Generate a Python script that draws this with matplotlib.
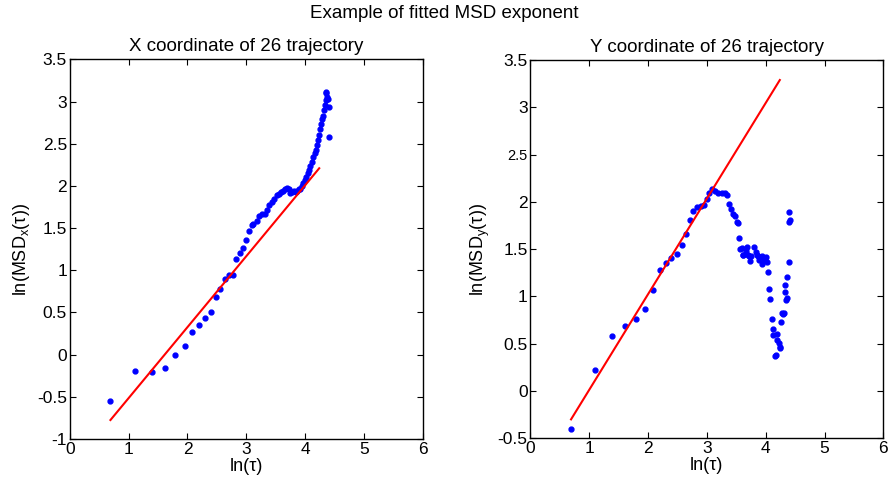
import matplotlib
matplotlib.use('Agg')
import matplotlib.pyplot as plt

plt.rcParams['font.family'] = ['Liberation Sans', 'DejaVu Sans']
plt.rcParams['mathtext.fontset'] = 'custom'
plt.rcParams['mathtext.rm'] = 'Liberation Sans'
plt.rcParams['mathtext.it'] = 'Liberation Sans:italic'

# X coordinate data
x_lnt = [0.69, 1.10, 1.39, 1.61, 1.79, 1.95, 2.08, 2.20, 2.30, 2.40,
         2.48, 2.56, 2.64, 2.71, 2.77, 2.83, 2.89, 2.94, 2.99, 3.05,
         3.09, 3.12, 3.18, 3.22, 3.27, 3.31, 3.36, 3.39, 3.43, 3.47,
         3.52, 3.55, 3.59, 3.62, 3.66, 3.69, 3.72, 3.75, 3.78, 3.81,
         3.84, 3.87, 3.90, 3.92, 3.95, 3.97, 4.00, 4.02, 4.05, 4.07,
         4.09, 4.11, 4.14, 4.16, 4.18, 4.20, 4.22, 4.23, 4.25, 4.27,
         4.29, 4.30, 4.32, 4.33, 4.35, 4.35, 4.36, 4.38, 4.39, 4.40, 4.41]
x_msd = [-0.55, -0.19, -0.21, -0.155, -0.005, 0.10, 0.27, 0.35, 0.43, 0.50,
         0.68, 0.78, 0.895, 0.94, 0.94, 1.13, 1.20, 1.26, 1.36, 1.47,
         1.54, 1.55, 1.58, 1.64, 1.67, 1.67, 1.71, 1.78, 1.81, 1.85,
         1.89, 1.91, 1.93, 1.94, 1.96, 1.98, 1.97, 1.92, 1.93, 1.94,
         1.93, 1.94, 1.96, 1.97, 2.00, 2.03, 2.07, 2.11, 2.15, 2.19,
         2.24, 2.29, 2.34, 2.39, 2.43, 2.48, 2.54, 2.60, 2.67, 2.74,
         2.79, 2.83, 2.90, 2.96, 3.02, 3.12, 3.10, 3.06, 3.03, 2.94, 2.58]
x_fit_x = [0.69, 4.24]
x_fit_y = [-0.775, 2.21]

# Y coordinate data
y_lnt = [0.69, 1.10, 1.39, 1.61, 1.79, 1.95, 2.08, 2.20, 2.30, 2.39,
         2.49, 2.57, 2.64, 2.71, 2.77, 2.84, 2.90, 2.95, 3.00, 3.04,
         3.09, 3.14, 3.19, 3.25, 3.30, 3.34, 3.37, 3.41, 3.44, 3.47,
         3.51, 3.53, 3.55, 3.57, 3.59, 3.61, 3.62, 3.66, 3.68, 3.70,
         3.71, 3.74, 3.75, 3.80, 3.84, 3.85, 3.87, 3.89, 3.93, 3.94,
         3.97, 3.98, 4.00, 4.02, 4.04, 4.06, 4.08, 4.10, 4.12, 4.13,
         4.15, 4.17, 4.19, 4.20, 4.22, 4.24, 4.25, 4.26, 4.28, 4.29,
         4.31, 4.32, 4.33, 4.34, 4.36, 4.37, 4.39, 4.40, 4.41, 4.40]
y_msd = [-0.407, 0.22, 0.58, 0.69, 0.76, 0.87, 1.07, 1.28, 1.35, 1.41,
         1.45, 1.55, 1.66, 1.81, 1.90, 1.95, 1.96, 1.97, 2.03, 2.10,
         2.14, 2.12, 2.10, 2.10, 2.10, 2.07, 1.98, 1.93, 1.87, 1.85,
         1.79, 1.78, 1.62, 1.50, 1.51, 1.44, 1.44, 1.48, 1.52, 1.44,
         1.43, 1.38, 1.43, 1.52, 1.47, 1.44, 1.43, 1.39, 1.43, 1.34,
         1.39, 1.41, 1.42, 1.37, 1.26, 1.08, 0.97, 0.76, 0.66, 0.59,
         0.37, 0.38, 0.60, 0.54, 0.51, 0.47, 0.46, 0.73, 0.83, 0.82,
         0.83, 1.05, 1.12, 0.96, 0.98, 1.21, 1.36, 1.79, 1.81, 1.89]
y_fit_x = [0.69, 4.24]
y_fit_y = [-0.30, 3.29]

fig = plt.figure(figsize=(8.89, 4.78), dpi=100)
ax1 = fig.add_axes([0.0786, 0.0816, 0.3969, 0.794])
ax2 = fig.add_axes([0.5967, 0.0831, 0.3969, 0.791])

for ax in (ax1, ax2):
    ax.tick_params(direction='in', top=True, right=True, labelsize=12.5,
                   length=4, pad=2)
    ax.set_xlim(0, 6)
    ax.set_xticks([0, 1, 2, 3, 4, 5, 6])
    ax.set_xlabel('ln(τ)', fontsize=13, labelpad=1)
    for s in ax.spines.values():
        s.set_linewidth(1.0)

ax1.plot(x_lnt, x_msd, '.', color='blue', markersize=7)
ax1.plot(x_fit_x, x_fit_y, '-', color='red', linewidth=1.5)
ax1.set_ylim(-1, 3.5)
ax1.set_yticks([-1, -0.5, 0, 0.5, 1, 1.5, 2, 2.5, 3, 3.5])
ax1.set_yticklabels(['-1', '-0.5', '0', '0.5', '1', '1.5', '2', '2.5', '3', '3.5'])
ax1.set_ylabel(r'ln(MSD$_\mathrm{x}$(τ))', fontsize=13, labelpad=4)
ax1.set_title('X coordinate of 26 trajectory', fontsize=13.5, pad=6)

ax2.plot(y_lnt, y_msd, '.', color='blue', markersize=7)
ax2.plot(y_fit_x, y_fit_y, '-', color='red', linewidth=1.5)
ax2.set_ylim(-0.5, 3.5)
ax2.set_yticks([-0.5, 0, 0.5, 1, 1.5, 2, 2.5, 3, 3.5])
ax2.set_yticklabels(['-0.5', '0', '0.5', '1', '1.5', '2', '2.5', '3', '3.5'])
ax2.get_yticklabels()[6].set_fontsize(10.5)
ax2.set_ylabel(r'ln(MSD$_\mathrm{y}$(τ))', fontsize=13, labelpad=4)
ax2.set_title('Y coordinate of 26 trajectory', fontsize=13.5, pad=6)

fig.suptitle('Example of fitted MSD exponent', fontsize=13.5, y=0.99)

fig.savefig('out.png', dpi=100)
